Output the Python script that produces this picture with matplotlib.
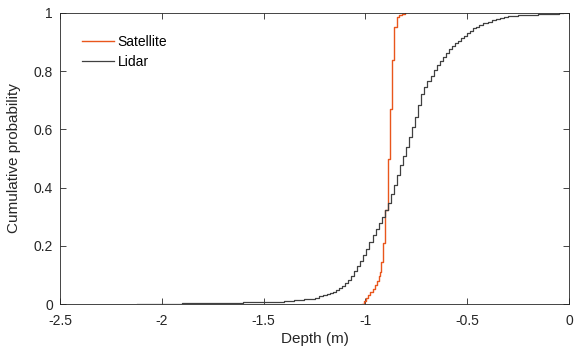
import numpy as np
import matplotlib
matplotlib.use("Agg")
import matplotlib.pyplot as plt

plt.rcParams['font.family'] = ['Liberation Sans', 'DejaVu Sans']
plt.rcParams['axes.unicode_minus'] = False

sat_depth = [-1.015, -1.005, -0.995, -0.985, -0.975, -0.965, -0.955, -0.945,
             -0.935, -0.93, -0.925, -0.915, -0.903, -0.89, -0.88, -0.868,
             -0.858, -0.846, -0.835, -0.82, -0.805]
sat_prob = [0.0, 0.01, 0.02, 0.03, 0.04, 0.05, 0.065, 0.08,
            0.095, 0.111, 0.145, 0.21, 0.323, 0.498, 0.670, 0.838,
            0.953, 0.987, 0.993, 0.997, 1.0]

lid_depth = [-2.12, -2.0, -1.9, -1.8, -1.7, -1.6, -1.5, -1.4, -1.35, -1.3,
             -1.25, -1.23, -1.21, -1.19, -1.175,
             -1.16, -1.145, -1.13, -1.115, -1.10, -1.085, -1.07, -1.055,
             -1.04, -1.025, -1.01, -0.995, -0.98, -0.965, -0.95, -0.935,
             -0.92, -0.905, -0.89, -0.875, -0.86, -0.845, -0.83, -0.815,
             -0.80, -0.785, -0.77, -0.755, -0.74, -0.725, -0.71, -0.695,
             -0.68, -0.665, -0.65, -0.635, -0.62, -0.605, -0.59, -0.575,
             -0.56, -0.545, -0.53, -0.515, -0.50, -0.485, -0.47, -0.455,
             -0.44, -0.42, -0.40, -0.38, -0.36, -0.34, -0.32, -0.30,
             -0.25, -0.20, -0.15, -0.10, -0.05, -0.03]
lid_prob = [0.0, 0.001, 0.002, 0.003, 0.004, 0.006, 0.008, 0.012, 0.014, 0.017,
            0.022, 0.026, 0.030, 0.034, 0.038,
            0.042, 0.048, 0.055, 0.063, 0.072, 0.084, 0.097, 0.112,
            0.13, 0.148, 0.169, 0.19, 0.213, 0.236, 0.259, 0.28,
            0.30, 0.322, 0.347, 0.378, 0.41, 0.443, 0.478, 0.51,
            0.54, 0.573, 0.607, 0.643, 0.685, 0.72, 0.745, 0.767,
            0.785, 0.803, 0.82, 0.835, 0.85, 0.863, 0.875, 0.886,
            0.896, 0.905, 0.913, 0.921, 0.93, 0.939, 0.947, 0.953,
            0.96, 0.965, 0.97, 0.975, 0.98, 0.984, 0.986, 0.988,
            0.992, 0.994, 0.996, 0.998, 0.999, 1.0]

xticks = [-2.5, -2, -1.5, -1, -0.5, 0]
xticklabels = ['-2.5', '-2', '-1.5', '-1', '-0.5', '0']
yticks = [0, 0.2, 0.4, 0.6, 0.8, 1]
yticklabels = ['0', '0.2', '0.4', '0.6', '0.8', '1']

fig = plt.figure(figsize=(5.81, 3.54), dpi=100)
ax = fig.add_axes([60/581, 50/354, 509/581, 291/354])

ax.plot(sat_depth, sat_prob, drawstyle='steps-post', color='#E9561C',
        lw=1.0, label='Satellite')
ax.plot(lid_depth, lid_prob, drawstyle='steps-post', color='#404040',
        lw=0.9, label='Lidar')

ax.set_xlim(-2.5, 0)
ax.set_ylim(0, 1)
ax.set_xticks(xticks)
ax.set_xticklabels(xticklabels)
ax.set_yticks(yticks)
ax.set_yticklabels(yticklabels)
ax.tick_params(direction='in', top=True, right=True, length=4, width=0.6,
               labelsize=10, colors='#262626')
ax.tick_params(axis='x', pad=7)
ax.tick_params(axis='y', pad=5)
for s in ax.spines.values():
    s.set_color('#262626')
    s.set_linewidth(0.6)

ax.set_xlabel('Depth (m)', fontsize=11, color='#262626', labelpad=3)
ax.set_ylabel('Cumulative probability', fontsize=11, color='#262626', labelpad=9)

ax.legend(loc='upper left', frameon=False, fontsize=10, handlelength=2.3,
          handletextpad=0.25, labelspacing=0.4, borderaxespad=1.2)

fig.savefig('out.png', dpi=100)
